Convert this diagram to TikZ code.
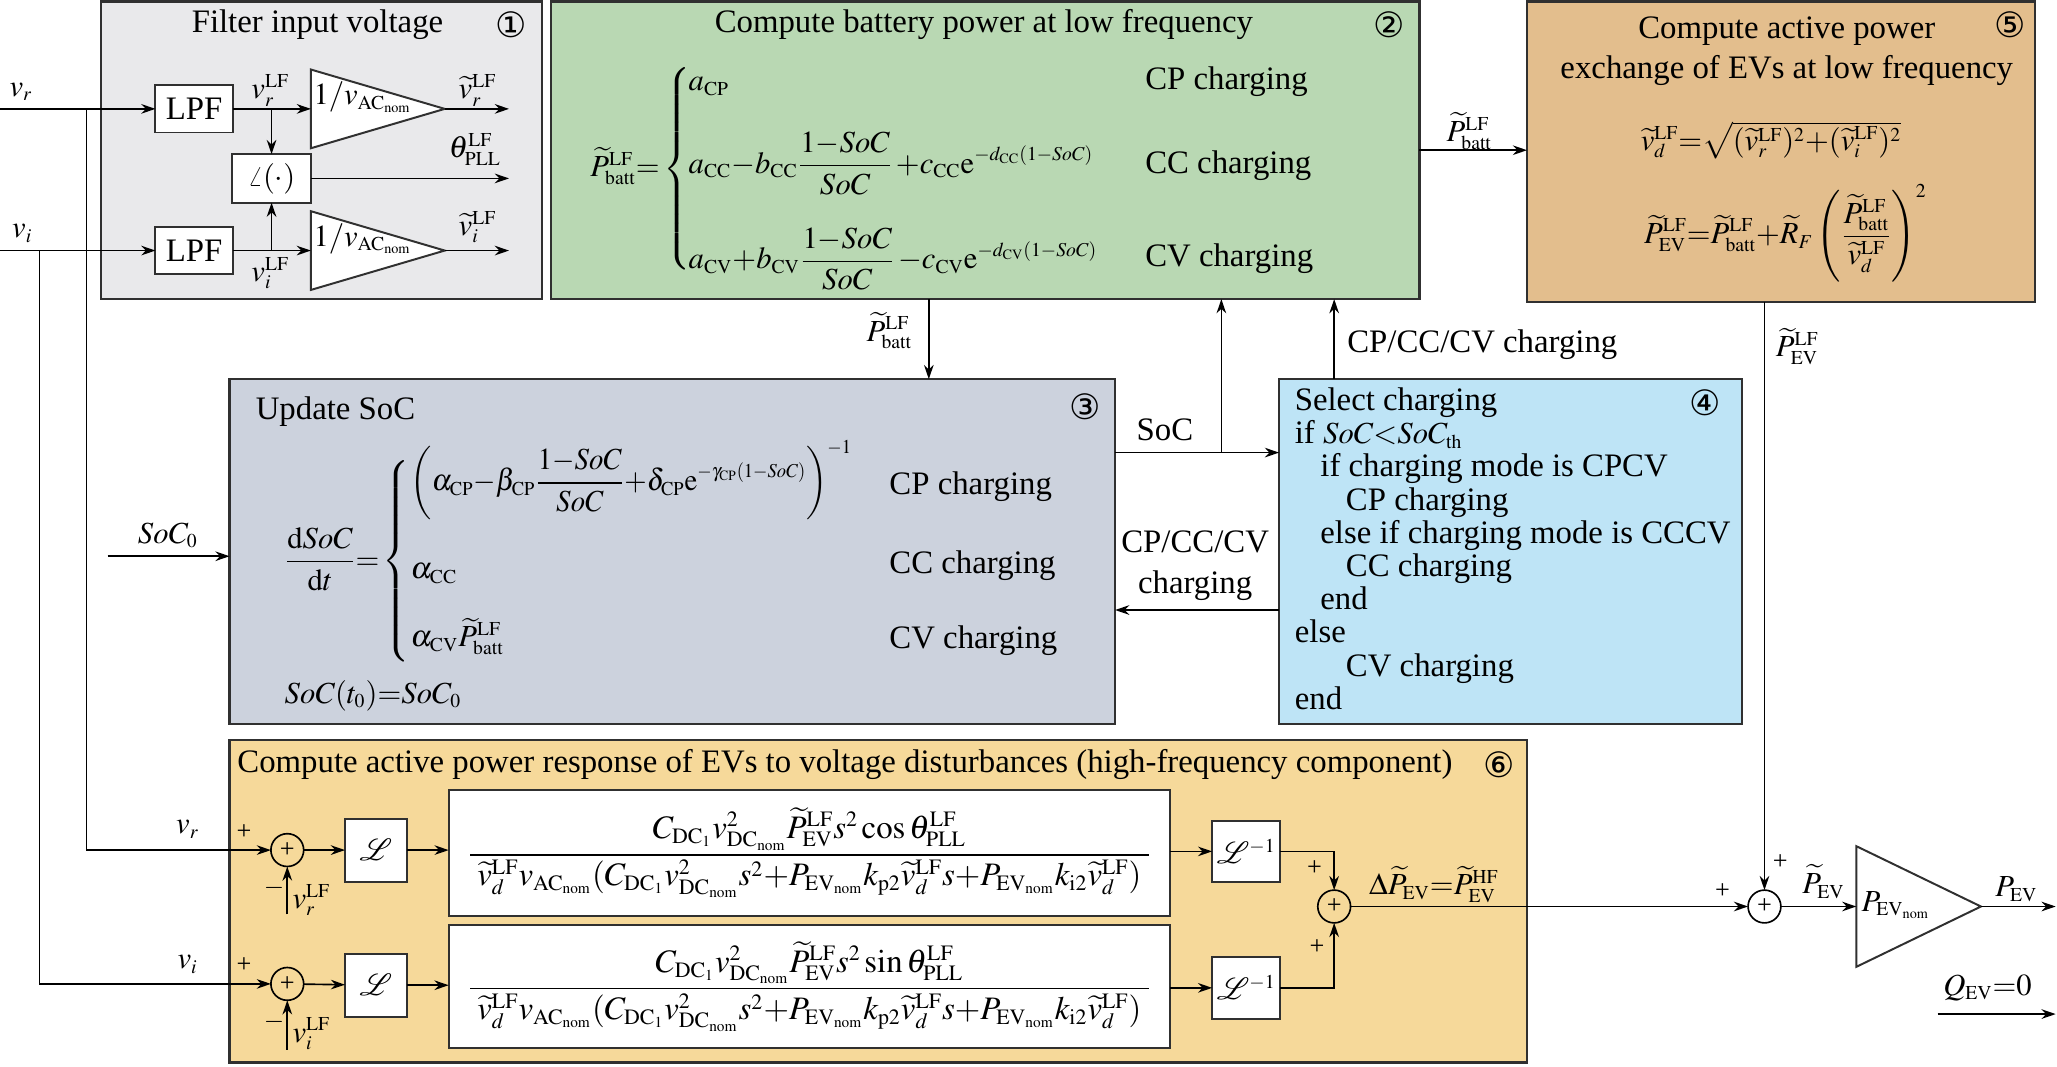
\documentclass[tikz,border=0pt]{standalone}
\usepackage{amsmath}
\usepackage{mathptmx}
\usepackage{fontspec}
\setmainfont{Liberation Serif}
\newfontfamily\circfont{DejaVu Sans}
\usetikzlibrary{arrows.meta,fit,calc}
\DeclareMathSizes{15}{14}{9}{6.5}
\DeclareMathSizes{16}{15}{10}{7}
\definecolor{cOne}{HTML}{E9E9EB}
\definecolor{cTwo}{HTML}{B9D8B3}
\definecolor{cThree}{HTML}{CCD2DD}
\definecolor{cFour}{HTML}{BEE4F6}
\definecolor{cFive}{HTML}{E3BE8D}
\definecolor{cSix}{HTML}{F6D99A}
\definecolor{edge}{HTML}{303030}
\newcommand{\rmx}[1]{\mathrm{#1}}
\begin{document}
\begin{tikzpicture}[x=0.6pt,y=-0.6pt,
  every node/.style={font=\fontsize{15}{15.1}\selectfont, inner sep=0pt, outer sep=0pt},
  frame/.style={draw=edge, line width=1.1pt, inner sep=0pt},
  blk/.style={draw=edge, fill=white, line width=0.9pt},
  arr/.style={draw=black, line width=0.75pt, -{Stealth[length=6.5pt,width=4.4pt]}},
  sumc/.style={circle, draw=black, line width=0.75pt, minimum size=15pt, font=\fontsize{12}{12}\selectfont},
  cnum/.style={font=\circfont\fontsize{16}{16}\selectfont},
  sgn/.style={font=\fontsize{12}{12}\selectfont},
  bigfrac/.style={blk, font=\fontsize{16}{16}\selectfont}]
\useasboundingbox (0,0) rectangle (1568,813);
% ---------- frames
\node[frame, fill=cOne, fit={(77,1) (413,228)}] (b1) {};
\node[frame, fill=cTwo, fit={(420,1) (1082,228)}] (b2) {};
\node[frame, fill=cFive, fit={(1164,1) (1551,230)}] (b5) {};
\node[frame, fill=cThree, fit={(175,289) (850,552)}] (b3) {};
\node[frame, fill=cFour, fit={(975,289) (1328,552)}] (b4) {};
\node[frame, fill=cSix, fit={(175,564) (1164,810)}] (b6) {};
% ---------- box 1
\node (t1) at (242,19) {Filter input voltage};
\node[cnum] (n1) at (390,19) {①};
\node[blk, minimum width=35.4pt, minimum height=21.6pt] (lpf1) at (148,83) {LPF};
\node[blk, minimum width=35.4pt, minimum height=21.6pt] (lpf2) at (148,191) {LPF};
\node[blk, minimum width=36pt, minimum height=22.2pt] (ang) at (207,136) {$\angle(\cdot)$};
\coordinate (a1in) at (237,83); \coordinate (a1out) at (339,83);
\coordinate (a2in) at (237,191); \coordinate (a2out) at (339,191);
\draw[blk] (237,53) -- (a1out) -- (237,113) -- cycle;
\draw[blk] (237,161) -- (a2out) -- (237,221) -- cycle;
\node[anchor=west] (g1) at (239,74) {$1/v_{\rmx{AC}_{\rmx{nom}}}$};
\node[anchor=west] (g2) at (239,182) {$1/v_{\rmx{AC}_{\rmx{nom}}}$};
\coordinate (vr0) at (0,83); \coordinate (vi0) at (0,191);
\node (vrl) at (16,70) {$v_r$};
\node (vil) at (17,178) {$v_i$};
\draw[arr] (vr0) -- (lpf1);
\draw[arr] (vi0) -- (lpf2);
\draw[arr] (lpf1) -- (a1in);
\draw[arr] (lpf2) -- (a2in);
\coordinate (j1) at (207,83); \coordinate (j2) at (207,191);
\draw[arr] (j1) -- (ang);
\draw[arr] (j2) -- (ang);
\node (vrlf) at (206,69) {$v_r^{\rmx{LF}}$};
\node (vilf) at (206,208) {$v_i^{\rmx{LF}}$};
\coordinate (o1) at (388,83); \coordinate (o2) at (388,136); \coordinate (o3) at (388,191);
\draw[arr] (a1out) -- (o1);
\draw[arr] (ang) -- (o2);
\draw[arr] (a2out) -- (o3);
\node (vrt) at (364,69) {$\widetilde{v}_r^{\rmx{LF}}$};
\node (thp) at (362,114) {$\theta^{\rmx{LF}}_{\rmx{PLL}}$};
\node (vit) at (364,173) {$\widetilde{v}_i^{\rmx{LF}}$};
% ---------- box 2
\node (t2) at (750,19) {Compute battery power at low frequency};
\node[cnum] (n2) at (1059,19) {②};
\node[anchor=west] (lhs2) at (450,129) {$\widetilde{P}^{\rmx{LF}}_{\rmx{batt}}{=}\left\{\vrule height 43pt depth 43pt width 0pt\right.$};
\node[anchor=base west] (r21) at (525,69) {$a_{\rmx{CP}}$};
\node[anchor=base west] (r22) at (525,132) {$\displaystyle a_{\rmx{CC}}{-}b_{\rmx{CC}}\frac{1{-}SoC}{SoC}\,{+}c_{\rmx{CC}}\rmx{e}^{-d_{\rmx{CC}}(1-SoC)}$};
\node[anchor=base west] (r23) at (525,205) {$\displaystyle a_{\rmx{CV}}{+}b_{\rmx{CV}}\frac{1{-}SoC}{SoC}\,{-}c_{\rmx{CV}}\rmx{e}^{-d_{\rmx{CV}}(1-SoC)}$};
\node[anchor=base west] (c21) at (873,68) {CP charging};
\node[anchor=base west] (c22) at (873,132) {CC charging};
\node[anchor=base west] (c23) at (873,203) {CV charging};
% ---------- box 5
\node[align=center, font=\fontsize{15}{18.6}\selectfont] (t5) at (1362,39) {Compute active power\\exchange of EVs at low frequency};
\node[cnum] (n5) at (1532,19) {⑤};
\node (e51) at (1350,107) {$\widetilde{v}_d^{\rmx{LF}}{=}\sqrt{(\widetilde{v}_r^{\rmx{LF}})^2{+}(\widetilde{v}_i^{\rmx{LF}})^2}$};
\node (e52) at (1361,178) {$\displaystyle\widetilde{P}^{\rmx{LF}}_{\rmx{EV}}{=}\widetilde{P}^{\rmx{LF}}_{\rmx{batt}}{+}\widetilde{R}_F\left(\frac{\widetilde{P}^{\rmx{LF}}_{\rmx{batt}}}{\widetilde{v}_d^{\rmx{LF}}}\right)^{2}$};
\draw[arr] (b2.east) -- (b2.east -| b5.west);
\node (lpb) at (1120,100) {$\widetilde{P}^{\rmx{LF}}_{\rmx{batt}}$};
% ---------- box 3
\node[anchor=west] (t3) at (195,314) {Update SoC};
\node[cnum] (n3) at (827,310) {③};
\node[anchor=west] (lhs3) at (217,428) {$\displaystyle\frac{\rmx{d}SoC}{\rmx{d}t}{=}\left\{\vrule height 42pt depth 42pt width 0pt\right.$};
\node[anchor=base west] (r31) at (313,374) {\scalebox{0.94}[1]{$\displaystyle\left(\alpha_{\rmx{CP}}{-}\beta_{\rmx{CP}}\frac{1{-}SoC}{SoC}{+}\delta_{\rmx{CP}}\rmx{e}^{-\gamma_{\rmx{CP}}(1-SoC)}\right)^{-1}$}};
\node[anchor=base west] (r32) at (313,441) {$\alpha_{\rmx{CC}}$};
\node[anchor=base west] (r33) at (313,493) {$\alpha_{\rmx{CV}}\widetilde{P}^{\rmx{LF}}_{\rmx{batt}}$};
\node[anchor=base west] (c31) at (678,377) {CP charging};
\node[anchor=base west] (c32) at (678,437) {CC charging};
\node[anchor=base west] (c33) at (678,494) {CV charging};
\node[anchor=base west] (ini) at (217,536) {$SoC(t_0){=}SoC_0$};
\coordinate (soc0) at (82,424);
\draw[arr] (soc0) -- (b3.west |- soc0);
\node (soc0l) at (128,408) {$SoC_0$};
\coordinate (x708) at (708,260);
\draw[arr] (b2.south -| x708) -- (b3.north -| x708);
\node (lpb2) at (678,252) {$\widetilde{P}^{\rmx{LF}}_{\rmx{batt}}$};
% ---------- box 4
\foreach \i/\ind/\txt in {1/0/{Select charging},2/0/{if $SoC{<}SoC_{\rmx{th}}$},3/1/{if charging mode is CPCV},4/2/{CP charging},5/1/{else if charging mode is CCCV},6/2/{CC charging},7/1/{end},8/0/{else},9/2/{CV charging},10/0/{end}}
  \node[anchor=base west] (s4l\i) at ({987+\ind*19.5},{313+(\i-1)*25.3}) {\txt};
\node[cnum] (n4) at (1300,307) {④};
\coordinate (yS) at (931,345);
\draw[arr] (b3.east |- yS) -- (b4.west |- yS);
\draw[arr] (yS) -- (yS |- b2.south);
\node (socl) at (888,328) {SoC};
\coordinate (xC) at (1017,260);
\draw[arr] (b4.north -| xC) -- (b2.south -| xC);
\node[anchor=west] (ccl) at (1027,263) {CP/CC/CV charging};
\coordinate (yB) at (911,465);
\draw[arr] (b4.west |- yB) -- (b3.east |- yB);
\node[align=center, font=\fontsize{15}{18.6}\selectfont] (ccl2) at (911,431) {CP/CC/CV\\charging};
% ---------- box 6
\node[anchor=base west] (t6) at (181,589) {Compute active power response of EVs to voltage disturbances (high-frequency component)};
\node[cnum] (n6) at (1143,583) {⑥};
\node[sumc] (s1) at (219,648) {+};
\node[sumc] (s2) at (219,750) {+};
\coordinate (d1) at (66,83); \coordinate (d2) at (30,191);
\draw[arr] (d1) |- (s1);
\draw[arr] (d2) |- (s2);
\node (vr6) at (143,632) {$v_r$};
\node (vi6) at (143,735) {$v_i$};
\node[sgn] (p1) at (186,634) {+};
\node[sgn] (m1) at (209,677) {$-$};
\node[sgn] (p2) at (186,736) {+};
\node[sgn] (m2) at (209,779) {$-$};
\coordinate (f1) at (219,697); \coordinate (f2) at (219,800);
\draw[arr] (f1) -- (s1);
\draw[arr] (f2) -- (s2);
\node[anchor=west] (fl1) at (223,686) {$v_r^{\rmx{LF}}$};
\node[anchor=west] (fl2) at (223,788) {$v_i^{\rmx{LF}}$};
\node[blk, minimum width=28.2pt, minimum height=28.8pt] (L1) at (286.5,648) {$\mathcal{L}$};
\node[blk, minimum width=28.2pt, minimum height=28.8pt] (L2) at (286.5,751) {$\mathcal{L}$};
\node[bigfrac, minimum width=330pt, minimum height=57.6pt] (F1) at (617,650) {$\displaystyle\frac{C_{\rmx{DC}_1}v^2_{\rmx{DC}_{\rmx{nom}}}\widetilde{P}^{\rmx{LF}}_{\rmx{EV}}s^2\cos\theta^{\rmx{LF}}_{\rmx{PLL}}}{\;\widetilde{v}^{\rmx{LF}}_d v_{\rmx{AC}_{\rmx{nom}}}(C_{\rmx{DC}_1}v^2_{\rmx{DC}_{\rmx{nom}}}s^2{+}P_{\rmx{EV}_{\rmx{nom}}}k_{\rmx{p2}}\widetilde{v}^{\rmx{LF}}_d s{+}P_{\rmx{EV}_{\rmx{nom}}}k_{\rmx{i2}}\widetilde{v}^{\rmx{LF}}_d)\;}$};
\node[bigfrac, minimum width=330pt, minimum height=56.4pt] (F2) at (617,752) {$\displaystyle\frac{C_{\rmx{DC}_1}v^2_{\rmx{DC}_{\rmx{nom}}}\widetilde{P}^{\rmx{LF}}_{\rmx{EV}}s^2\sin\theta^{\rmx{LF}}_{\rmx{PLL}}}{\;\widetilde{v}^{\rmx{LF}}_d v_{\rmx{AC}_{\rmx{nom}}}(C_{\rmx{DC}_1}v^2_{\rmx{DC}_{\rmx{nom}}}s^2{+}P_{\rmx{EV}_{\rmx{nom}}}k_{\rmx{p2}}\widetilde{v}^{\rmx{LF}}_d s{+}P_{\rmx{EV}_{\rmx{nom}}}k_{\rmx{i2}}\widetilde{v}^{\rmx{LF}}_d)\;}$};
\node[blk, minimum width=31.2pt, minimum height=28.2pt] (Li1) at (950,649) {$\mathcal{L}^{-1}$};
\node[blk, minimum width=31.2pt, minimum height=28.2pt] (Li2) at (950,753) {$\mathcal{L}^{-1}$};
\draw[arr] (s1) -- (L1);
\draw[arr] (s2) -- (L2);
\draw[arr] (L1) -- (L1 -| F1.west);
\draw[arr] (L2) -- (L2 -| F2.west);
\draw[arr] (F1.east |- Li1) -- (Li1);
\draw[arr] (F2.east |- Li2) -- (Li2);
\node[sumc] (s3) at (1017,691) {+};
\draw[arr] (Li1) -| (s3);
\draw[arr] (Li2) -| (s3);
\node[sgn] (p3) at (1002,662) {+};
\node[sgn] (p4) at (1004,722) {+};
\node (dp) at (1093,674) {$\Delta\widetilde{P}_{\rmx{EV}}{=}\widetilde{P}^{\rmx{HF}}_{\rmx{EV}}$};
% ---------- output part
\node[sumc] (s4) at (1345,691) {+};
\draw[arr] (s3) -- (s4);
\node[sgn] (p5) at (1313,679) {+};
\node[sgn] (p6) at (1357,657) {+};
\draw[arr] (b5.south -| s4) -- (s4);
\node (pevlf) at (1370,264) {$\widetilde{P}^{\rmx{LF}}_{\rmx{EV}}$};
\coordinate (a3in) at (1415,691); \coordinate (a3out) at (1510,691);
\draw[blk] (1415,645) -- (a3out) -- (1415,737) -- cycle;
\draw[arr] (s4) -- (a3in);
\node (pev) at (1390,672) {$\widetilde{P}_{\rmx{EV}}$};
\node[anchor=west] (gain) at (1419,690) {$P_{\rmx{EV}_{\rmx{nom}}}$};
\coordinate (pout) at (1567,691);
\draw[arr] (a3out) -- (pout);
\node (pevo) at (1537,678) {$P_{\rmx{EV}}$};
\node (qev) at (1515,753) {$Q_{\rmx{EV}}{=}0$};
\coordinate (qa) at (1477,773); \coordinate (qb) at (1567,773);
\draw[arr] (qa) -- (qb);
\end{tikzpicture}
\end{document}
